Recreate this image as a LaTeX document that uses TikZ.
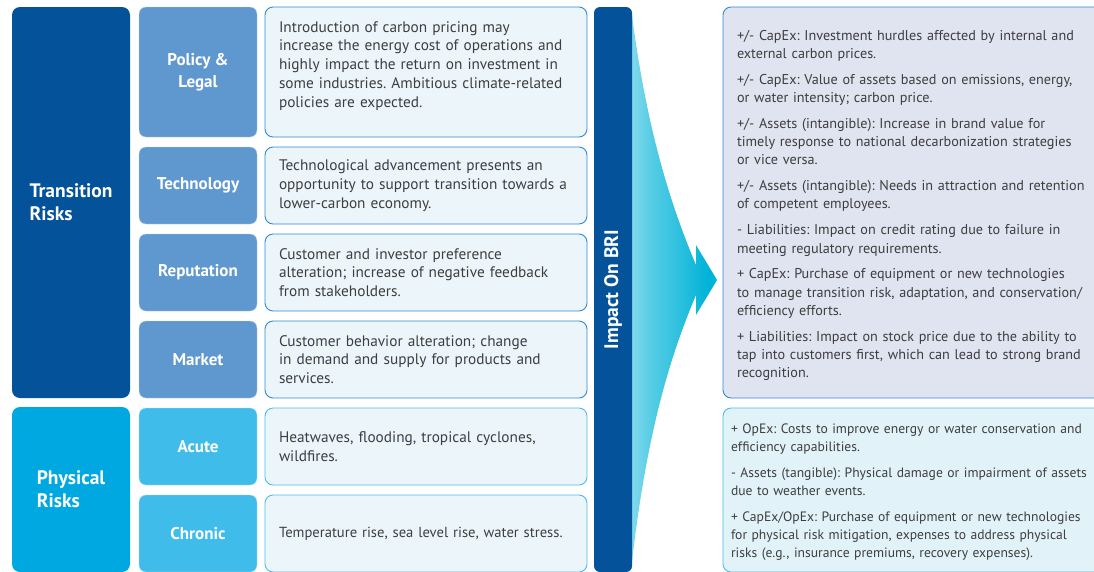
\documentclass[tikz,border=0pt]{standalone}
\usepackage{fontspec}
\setmainfont{PT Sans}
\usepackage{xcolor}
\usetikzlibrary{positioning,calc}
\frenchspacing

\definecolor{transdark}{RGB}{3,82,154}
\definecolor{physdark}{RGB}{0,168,225}
\definecolor{transmid}{RGB}{95,151,207}
\definecolor{physmid}{RGB}{64,188,235}
\definecolor{descfill}{RGB}{236,246,250}
\definecolor{transline}{RGB}{46,139,212}
\definecolor{physline}{RGB}{77,188,236}
\definecolor{capfill}{RGB}{224,227,240}
\definecolor{opfill}{RGB}{225,242,248}
\definecolor{txtgray}{RGB}{62,62,62}
\definecolor{arrcyan}{RGB}{0,179,216}
\definecolor{arrlight}{RGB}{225,245,250}
\pgfdeclarehorizontalshading{arrowfade}{100bp}{color(0bp)=(arrlight); color(35bp)=(arrcyan!65!white); color(70bp)=(arrcyan); color(100bp)=(arrcyan)}

\begin{document}
\begin{tikzpicture}[x=1pt,y=-1pt,
        grp/.style={fill=#1,rounded corners=8pt,minimum width=118pt,inner sep=0pt,outer sep=0pt,
                    text=white,align=left,font=\bfseries\fontsize{19.5}{23}\selectfont},
        cat/.style={fill=#1,draw=white!55!#1,rounded corners=7pt,minimum width=118pt,minimum height=77pt,
                    inner sep=0pt,outer sep=0pt,text=white,align=center,font=\bfseries\fontsize{17}{21.5}\selectfont},
        desc/.style={draw=#1,line width=0.9pt,fill=descfill,rounded corners=8pt,text width=294pt,
                     inner xsep=14pt,minimum height=77pt,outer sep=0pt,align=left,text=txtgray,
                     font=\fontsize{15.3}{18.8}\selectfont},
        effect/.style={draw=#1,line width=0.9pt,rounded corners=8pt,inner ysep=0pt,outer sep=0pt,
                       align=left,anchor=north west,text=txtgray,font=\fontsize{14.2}{18.3}\selectfont},
        bar/.style={fill=transdark,rounded corners=6pt,minimum width=565pt,minimum height=38pt,
                    inner sep=0pt,text=white,font=\bfseries\fontsize{19.5}{23}\selectfont}
    ]
    \useasboundingbox (0,0) rectangle (1094,571);
    \clip (0,0) rectangle (1094,571);

    % Risk groups
    \node[grp=transdark,minimum height=391pt] (trans) at (71,202.5) {Transition\\Risks};
    \node[grp=physdark,minimum height=165pt] (phys) at (71,489.5) {Physical\\Risks};

    % Categories
    \node[cat=transmid,minimum height=130pt] (policy) at (198,72) {Policy \&\\Legal};
    \node[cat=transmid,below=10pt of policy] (tech) {Technology};
    \node[cat=transmid,below=10pt of tech] (reput) {Reputation};
    \node[cat=transmid,below=10pt of reput] (market) {Market};
    \node[cat=physmid,below=10pt of market] (acute) {Acute};
    \node[cat=physmid,below=10pt of acute] (chronic) {Chronic};

    % Descriptions
    \node[desc=transline,right=8pt of policy,inner ysep=0pt,text height=25pt,text depth=105pt] (policytxt)
        {Introduction of carbon pricing may\\increase the energy cost of operations and\\highly impact the return on investment in\\some industries. Ambitious climate-related\\policies are expected.};
    \node[desc=transline,right=8pt of tech] (techtxt)
        {Technological advancement presents an\\opportunity to support transition towards a\\lower-carbon economy.};
    \node[desc=transline,right=8pt of reput] (reputtxt)
        {Customer and investor preference\\alteration; increase of negative feedback\\from stakeholders.};
    \node[desc=transline,right=8pt of market] (markettxt)
        {Customer behavior alteration; change\\in demand and supply for products and\\services.};
    \node[desc=physline,right=8pt of acute] (acutetxt)
        {Heatwaves, flooding, tropical cyclones,\\wildfires.};
    \node[desc=physline,right=8pt of chronic,font=\fontsize{14.6}{18.8}\selectfont] (chronictxt)
        {Temperature rise, sea level rise, water stress.};

    % Arrow
    \shade[shading=arrowfade] (632,15) .. controls (648,140) and (675,215) .. (696,265)
        -- (696,245) -- (717,280) -- (696,315) -- (696,295)
        .. controls (675,345) and (648,420) .. (632,562) -- cycle;

    % Impact bar
    \node[bar,rotate=90] (bri) at (613,289.5) {Impact On BRI};

    % Financial impacts
    \node[effect=transline,fill=capfill,text width=362pt,inner xsep=14pt,text height=33pt,text depth=358pt] (capex) at (723,7)
        {+/- CapEx: Investment hurdles affected by internal and\\external carbon prices.\\[7.5pt]
         +/- CapEx: Value of assets based on emissions, energy,\\or water intensity; carbon price.\\[7.5pt]
         +/- Assets (intangible): Increase in brand value for\\timely response to national decarbonization strategies\\or vice versa.\\[7.5pt]
         +/- Assets (intangible): Needs in attraction and retention\\of competent employees.\\[7.5pt]
         - Liabilities: Impact on credit rating due to failure in\\meeting regulatory requirements.\\[7.5pt]
         + CapEx: Purchase of equipment or new technologies\\to manage transition risk, adaptation, and conservation/\\efficiency efforts.\\[7.5pt]
         + Liabilities: Impact on stock price due to the ability to\\tap into customers first, which can lead to strong brand\\recognition.};
    \node[effect=physline,fill=opfill,text width=385pt,inner xsep=8pt,text height=25pt,text depth=139pt,
          font=\fontsize{13.6}{18.3}\selectfont] (opex) at (723,408)
        {+ OpEx: Costs to improve energy or water conservation and\\efficiency capabilities.\\[7.5pt]
         - Assets (tangible): Physical damage or impairment of assets\\due to weather events.\\[7.5pt]
         + CapEx/OpEx: Purchase of equipment or new technologies\\for physical risk mitigation, expenses to address physical\\risks (e.g., insurance premiums, recovery expenses).};
\end{tikzpicture}
\end{document}
